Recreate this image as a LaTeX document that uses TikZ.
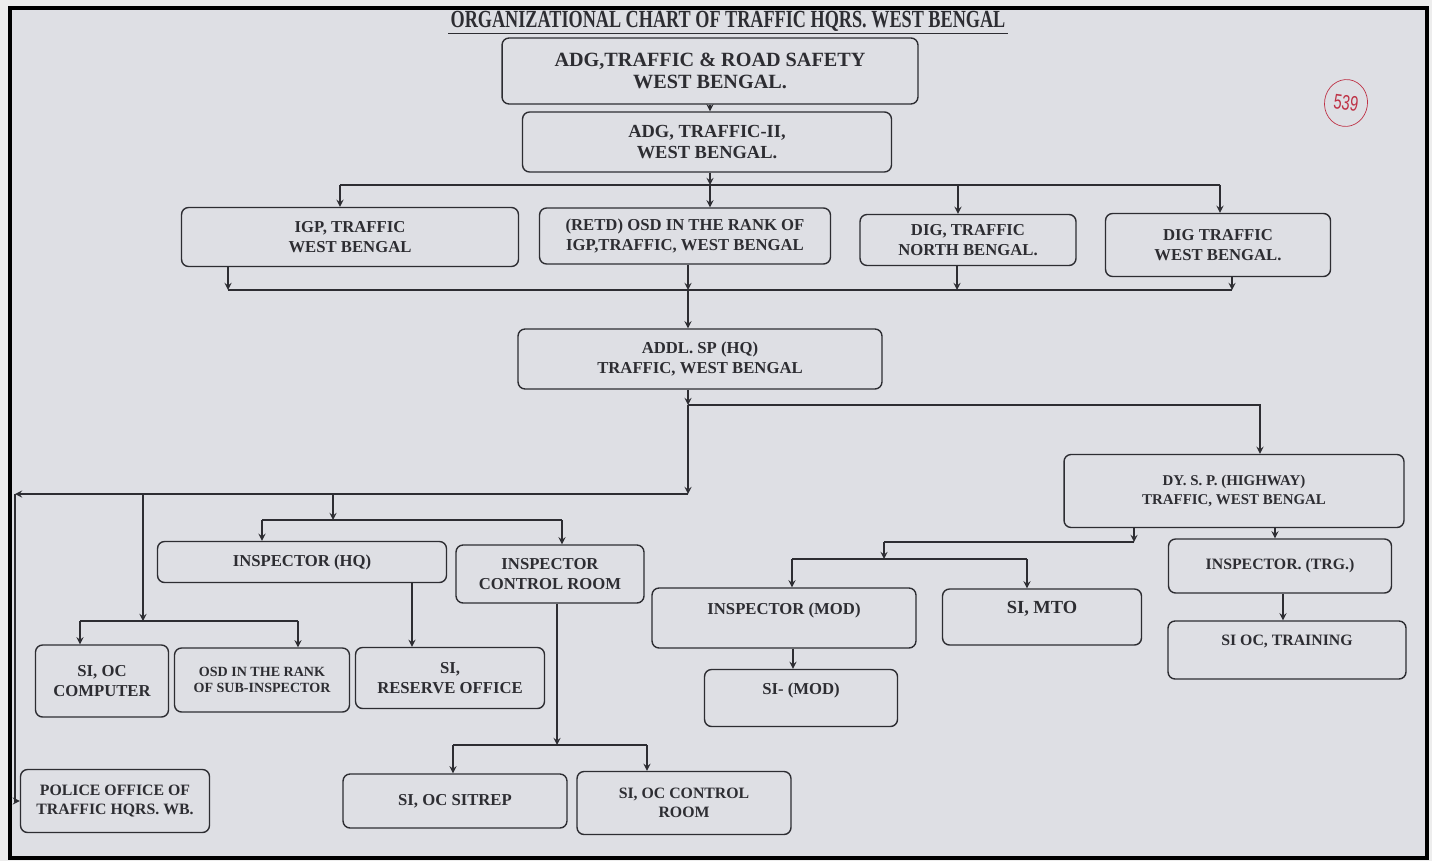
\documentclass[tikz,border=0pt]{standalone}
\usepackage{fontspec}
\setmainfont{Liberation Serif}
\setsansfont{Liberation Sans}
\usepackage{graphicx}
\usetikzlibrary{shapes.geometric}

\definecolor{paper}{RGB}{222,223,228}
\definecolor{ink}{RGB}{45,45,50}
\definecolor{redink}{RGB}{190,50,70}

\tikzset{
  box/.style={draw=ink, thick, rounded corners=4pt, fill=paper, align=center,
    inner sep=0pt, text=ink, font=\bfseries\fontsize{9.5}{11}\selectfont},
  bigbox/.style={box, font=\bfseries\fontsize{11.5}{13}\selectfont},
  smallbox/.style={box, font=\bfseries\fontsize{8}{9.5}\selectfont},
}

\begin{document}
\begin{tikzpicture}[x=0.02cm, y=-0.02cm, >=stealth, thick, ink]
    % Paper and frame
    \useasboundingbox (0,0) rectangle (1432,861);
    \fill[white!93!black] (0,0) rectangle (1432,861);
    \draw[black, line width=2.5pt, fill=paper] (10,8) rectangle (1427,858);

    % Title
    \node[font=\bfseries\fontsize{14}{16}\selectfont, inner sep=1pt] (title) at (728,21)
        {\scalebox{0.74}[1]{ORGANIZATIONAL CHART OF TRAFFIC HQRS. WEST BENGAL}};
    \draw (title.south west) -- (title.south east);

    % Page number
    \node[draw=redink, ellipse, thin, minimum width=0.86cm, minimum height=0.94cm, inner sep=0pt,
        text=redink, font=\sffamily\fontsize{12}{14}\selectfont, rotate=-8] (pageno) at (1346,103)
        {\scalebox{0.7}[1]{539}};

    % Top of the chart
    \node[bigbox, minimum width=8.32cm, minimum height=1.32cm] (adg) at (710,71)
        {ADG,TRAFFIC \& ROAD SAFETY\\WEST BENGAL.};
    \node[box, font=\bfseries\fontsize{10.5}{12}\selectfont, minimum width=7.38cm, minimum height=1.2cm]
        (adgii) at (707,142) {ADG, TRAFFIC-II,\\WEST BENGAL.};

    % Second row
    \node[box, minimum width=6.74cm, minimum height=1.18cm] (igp) at (350,237) {IGP, TRAFFIC\\WEST BENGAL};
    \node[box, minimum width=5.82cm, minimum height=1.12cm] (retd) at (685,236)
        {(RETD) OSD IN THE RANK OF\\IGP,TRAFFIC, WEST BENGAL};
    \node[box, minimum width=4.32cm, minimum height=1.02cm] (dign) at (968,240) {DIG, TRAFFIC\\NORTH BENGAL.};
    \node[box, minimum width=4.5cm, minimum height=1.26cm] (digw) at (1218,245) {DIG TRAFFIC\\WEST BENGAL.};

    % Middle
    \node[box, minimum width=7.28cm, minimum height=1.2cm] (addl) at (700,359) {ADDL. SP (HQ)\\TRAFFIC, WEST BENGAL};
    \node[box, font=\bfseries\fontsize{8.5}{10.5}\selectfont, minimum width=6.8cm, minimum height=1.46cm]
        (dysp) at (1234,491) {DY. S. P. (HIGHWAY)\\TRAFFIC, WEST BENGAL};

    % Left branch
    \node[box, minimum width=5.78cm, minimum height=0.82cm] (insphq) at (302,562) {INSPECTOR (HQ)};
    \node[box, minimum width=3.76cm, minimum height=1.16cm] (inspcr) at (550,574) {INSPECTOR\\CONTROL ROOM};
    \node[box, minimum width=2.66cm, minimum height=1.44cm] (sicomp) at (102,681) {SI, OC\\COMPUTER};
    \node[smallbox, minimum width=3.5cm, minimum height=1.28cm] (osd) at (262,680) {OSD IN THE RANK\\OF SUB-INSPECTOR};
    \node[box, minimum width=3.78cm, minimum height=1.22cm] (sires) at (450,678) {SI,\\RESERVE OFFICE};
    \node[box, minimum width=4.48cm, minimum height=1.08cm] (sitrep) at (455,801) {SI, OC SITREP};
    \node[box, font=\bfseries\fontsize{9}{11}\selectfont, minimum width=4.28cm, minimum height=1.26cm]
        (siocr) at (684,803) {SI, OC CONTROL\\ROOM};
    \node[box, font=\bfseries\fontsize{9}{11}\selectfont, minimum width=3.78cm, minimum height=1.26cm]
        (police) at (115,801) {POLICE OFFICE OF\\TRAFFIC HQRS. WB.};

    % Right branch
    \node[box, minimum width=5.28cm, minimum height=1.2cm] (inspmod) at (784,618) {INSPECTOR (MOD)\\\mbox{}};
    \node[box, font=\bfseries\fontsize{10.5}{11}\selectfont, minimum width=3.98cm, minimum height=1.12cm]
        (simto) at (1042,617) {SI, MTO\\\mbox{}};
    \node[box, minimum width=3.86cm, minimum height=1.14cm] (simod) at (801,698) {SI- (MOD)\\\mbox{}};
    \node[box, font=\bfseries\fontsize{9}{11}\selectfont, minimum width=4.46cm, minimum height=1.08cm]
        (insptrg) at (1280,566) {INSPECTOR. (TRG.)};
    \node[box, font=\bfseries\fontsize{9}{11}\selectfont, minimum width=4.76cm, minimum height=1.16cm]
        (sitrain) at (1287,650) {SI OC, TRAINING\\\mbox{}};

    % Connectors from ADG down to second row
    \coordinate (t1) at (340,185);
    \coordinate (t2) at (710,185);
    \coordinate (t3) at (958,185);
    \coordinate (t4) at (1220,185);
    \draw[->] (adg.south -| t2) -- (adgii.north -| t2);
    \draw[->] (adgii.south -| t2) -- (t2);
    \draw (t1) -- (t4);
    \draw[->] (t1) -- (t1 |- igp.north);
    \draw[->] (t2) -- (t2 |- retd.north);
    \draw[->] (t3) -- (t3 |- dign.north);
    \draw[->] (t4) -- (t4 |- digw.north);

    % Second row into ADDL. SP
    \coordinate (b1) at (228,290);
    \coordinate (b2) at (688,290);
    \coordinate (b3) at (957,290);
    \coordinate (b4) at (1232,290);
    \draw (b1) -- (b4);
    \draw[->] (igp.south -| b1) -- (b1);
    \draw[->] (retd.south -| b2) -- (b2);
    \draw[->] (dign.south -| b3) -- (b3);
    \draw[->] (digw.south -| b4) -- (b4);
    \draw[->] (b2) -- (b2 |- addl.north);

    % ADDL. SP fork
    \coordinate (a1) at (688,405);
    \coordinate (a2) at (1260,405);
    \coordinate (a3) at (688,494);
    \coordinate (a4) at (15,494);
    \draw[->] (addl.south -| a1) -- (a1);
    \draw[->] (a1) -- (a2) -- (a2 |- dysp.north);
    \draw[->] (a1) -- (a3);
    \draw[->] (a3) -- (a4);
    \draw[->] (a4) |- (police.west);

    % Left branch connectors
    \coordinate (l1) at (143,494);
    \coordinate (l2) at (143,621);
    \coordinate (l3) at (80,621);
    \coordinate (l4) at (298,621);
    \draw[->] (l1) -- (l2);
    \draw (l3) -- (l4);
    \draw[->] (l3) -- (l3 |- sicomp.north);
    \draw[->] (l4) -- (l4 |- osd.north);

    \coordinate (m1) at (333,494);
    \coordinate (m2) at (333,520);
    \coordinate (m3) at (262,520);
    \coordinate (m4) at (562,520);
    \draw[->] (m1) -- (m2);
    \draw (m3) -- (m4);
    \draw[->] (m3) -- (m3 |- insphq.north);
    \draw[->] (m4) -- (m4 |- inspcr.north);

    \coordinate (h1) at (412,0);
    \draw[->] (insphq.south -| h1) -- (sires.north -| h1);

    \coordinate (r1) at (557,745);
    \coordinate (r2) at (453,745);
    \coordinate (r3) at (647,745);
    \draw[->] (inspcr.south -| r1) -- (r1);
    \draw (r2) -- (r3);
    \draw[->] (r2) -- (r2 |- sitrep.north);
    \draw[->] (r3) -- (r3 |- siocr.north);

    % Right branch connectors
    \coordinate (s1) at (1134,542);
    \coordinate (s2) at (884,542);
    \coordinate (s3) at (884,559);
    \coordinate (s4) at (792,559);
    \coordinate (s5) at (1027,559);
    \draw[->] (dysp.south -| s1) -- (s1);
    \draw (s1) -- (s2);
    \draw[->] (s2) -- (s3);
    \draw (s4) -- (s5);
    \draw[->] (s4) -- (s4 |- inspmod.north);
    \draw[->] (s5) -- (s5 |- simto.north);

    \coordinate (s6) at (1275,0);
    \coordinate (s7) at (1283,0);
    \coordinate (s8) at (793,0);
    \draw[->] (dysp.south -| s6) -- (insptrg.north -| s6);
    \draw[->] (insptrg.south -| s7) -- (sitrain.north -| s7);
    \draw[->] (inspmod.south -| s8) -- (simod.north -| s8);
\end{tikzpicture}
\end{document}
